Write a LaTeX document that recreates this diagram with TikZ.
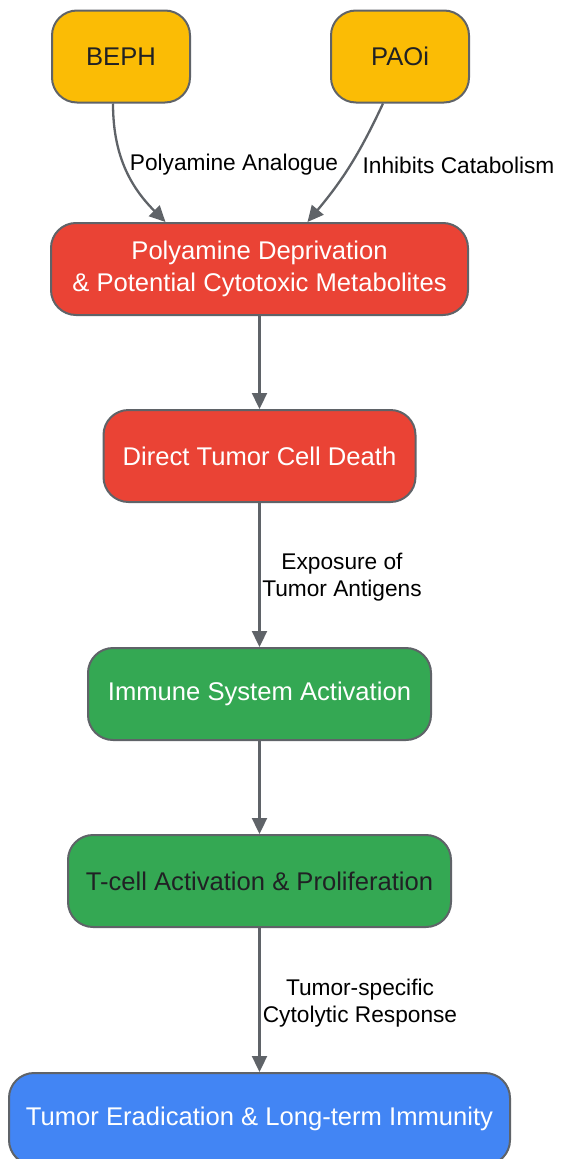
\documentclass[tikz,border=0pt]{standalone}
\usepackage{fontspec}
\setmainfont{Liberation Sans}
\usetikzlibrary{arrows.meta, positioning, calc}

\definecolor{drugYellow}{HTML}{FBBC05}
\definecolor{deathRed}{HTML}{EA4335}
\definecolor{immuneGreen}{HTML}{34A853}
\definecolor{outcomeBlue}{HTML}{4285F4}
\definecolor{lineGrey}{HTML}{5F6368}
\definecolor{darkText}{HTML}{202124}

\begin{document}
\begin{tikzpicture}[
    x=1pt, y=-1pt,
    box/.style={rounded corners=25pt, draw=lineGrey, line width=2pt,
        minimum height=92pt, inner sep=0pt, align=center,
        font=\fontsize{25.6}{32}\selectfont},
    flow/.style={draw=lineGrey, line width=2.3pt,
        -{Triangle[length=16pt, width=15pt]}},
    lbl/.style={font=\fontsize{22.7}{27}\selectfont, align=center,
        text=black, inner sep=0pt}
    ]

    % Determines the boundries
    \path[use as bounding box] (0,0) rectangle (560,1159);

    \def\xc{259.5}          % centre line of the chain

    % Drugs on top
    \node (beph) [box, fill=drugYellow, text=darkText, minimum width=138pt] at (121,56.5) {BEPH};
    \node (paoi) [box, fill=drugYellow, text=darkText, minimum width=138pt] at (400,56.5) {PAOi};

    % Main chain
    \node (depr)   [box, fill=deathRed, text=white, minimum width=417pt] at (\xc,269)
        {Polyamine Deprivation\\\& Potential Cytotoxic Metabolites};
    \node (death)  [box, fill=deathRed, text=white, minimum width=312pt] at (\xc,456)
        {Direct Tumor Cell Death};
    \node (immune) [box, fill=immuneGreen, text=white, minimum width=343pt] at (\xc,694)
        {Immune System Activation};
    \node (tcell)  [box, fill=immuneGreen, text=darkText, minimum width=383pt] at (\xc,881)
        {T-cell Activation \& Proliferation};
    \node (erad)   [box, fill=outcomeBlue, text=white, minimum width=501pt] at (\xc,1119)
        {Tumor Eradication \& Long-term Immunity};

    % Curved arrows from the drugs
    \draw[flow] ($(beph.south)+(-8,0)$) to[out=-90, in=135] ($(depr.north)+(-94,0)$);
    \draw[flow] ($(paoi.south)+(-17,0)$) to[out=-115, in=50] ($(depr.north)+(48,0)$);

    \node (lblA) [lbl] at (234,165) {Polyamine Analogue};
    \node (lblB) [lbl] at (458.5,165) {Inhibits Catabolism};

    % Straight arrows down the chain
    \foreach \a/\b in {depr/death, death/immune, immune/tcell, tcell/erad}{
        \draw[flow] (\a.south) -- (\b.north);
    }

    \node (lblC) [lbl] at (342,577) {Exposure of\\Tumor Antigens};
    \node (lblD) [lbl] at (360,1003) {Tumor-specific\\Cytolytic Response};

\end{tikzpicture}
\end{document}
